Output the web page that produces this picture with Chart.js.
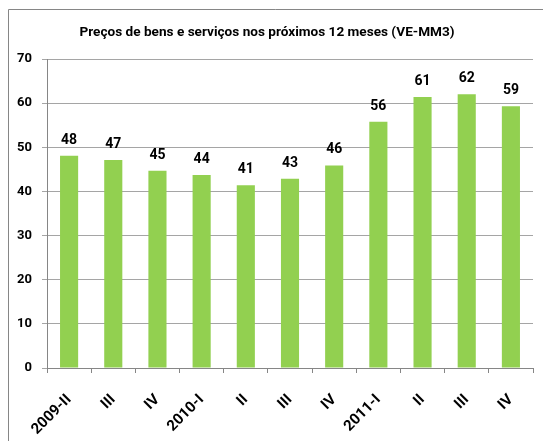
<!DOCTYPE html>
<html><head><meta charset="utf-8">
<script src="https://cdn.jsdelivr.net/npm/chart.js@4"></script>
<style>html,body{margin:0;padding:0;background:#fff;overflow:hidden;}#wrap{position:relative;width:543px;height:441px;}</style>
</head><body><div id="wrap"><canvas id="c" width="543" height="441"></canvas></div>
<script>
const categories = ['2009-II','III','IV','2010-I','II','III','IV','2011-I','II','III','IV'];
const values = [48.1, 47.1, 44.7, 43.7, 41.4, 42.9, 45.9, 55.8, 61.4, 62.0, 59.3];
const yTicks = [0, 10, 20, 30, 40, 50, 60, 70];
const chartTitle = 'Preços de bens e serviços nos próximos 12 meses (VE-MM3)';

const FONT = 'Roboto';

const framePlugin = {
  id: 'frame',
  beforeDraw(chart) {
    const ctx = chart.ctx;
    ctx.save();
    ctx.fillStyle = '#fff';
    ctx.fillRect(0, 0, chart.width, chart.height);
    ctx.strokeStyle = '#868686';
    ctx.lineWidth = 1;
    ctx.beginPath();
    ctx.moveTo(8.5, chart.height);
    ctx.lineTo(8.5, 9.5);
    ctx.lineTo(chart.width, 9.5);
    ctx.stroke();
    ctx.fillStyle = '#000';
    ctx.font = 'bold 13.6px ' + FONT;
    ctx.textAlign = 'center';
    ctx.textBaseline = 'alphabetic';
    ctx.fillText(chartTitle, 267, 36);
    ctx.restore();
  }
};

const valueLabelPlugin = {
  id: 'valueLabels',
  afterDatasetsDraw(chart) {
    const ctx = chart.ctx;
    const meta = chart.getDatasetMeta(0);
    ctx.save();
    ctx.fillStyle = '#000';
    ctx.font = 'bold 14px ' + FONT;
    ctx.textAlign = 'center';
    ctx.textBaseline = 'alphabetic';
    meta.data.forEach((bar, i) => {
      ctx.fillText(String(Math.round(values[i])), bar.x, bar.y - 12);
    });
    ctx.restore();
  }
};

new Chart(document.getElementById('c'), {
  type: 'bar',
  data: {
    labels: categories,
    datasets: [{
      data: values,
      backgroundColor: '#92D050',
      borderWidth: 0,
      barPercentage: 0.41,
      categoryPercentage: 1.0
    }]
  },
  options: {
    responsive: false,
    animation: false,
    devicePixelRatio: 1,
    layout: { padding: { top: 59, right: 10, left: 0, bottom: 0 } },
    plugins: { legend: { display: false }, title: { display: false }, tooltip: { enabled: false } },
    scales: {
      x: {
        grid: { drawOnChartArea: false, drawTicks: true, tickLength: 5, color: '#868686', offset: true },
        border: { color: '#868686' },
        ticks: {
          font: { family: FONT, weight: 'bold', size: 15 },
          color: '#000',
          minRotation: 45, maxRotation: 45,
          padding: 18,
          autoSkip: false
        },
        afterFit(s) { s.height = 73; }
      },
      y: {
        min: 0, max: 70,
        afterBuildTicks(s) { s.ticks = yTicks.map(v => ({ value: v })); },
        grid: { color: '#a5a5a5', tickLength: 5 },
        border: { color: '#868686' },
        ticks: { font: { family: FONT, weight: 'bold', size: 13 }, color: '#000', padding: 10 },
        afterFit(s) { s.width = 47; }
      }
    }
  },
  plugins: [framePlugin, valueLabelPlugin]
});
</script>
</body></html>
